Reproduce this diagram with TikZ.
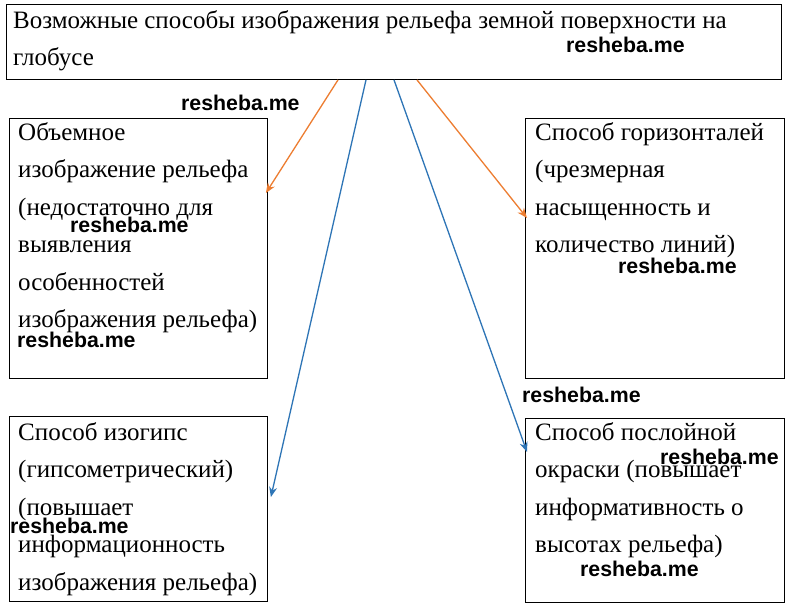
\documentclass[tikz,border=0pt]{standalone}
\usepackage{fontspec}
\setmainfont{Liberation Serif}
\newfontfamily\wmfont{Liberation Sans}
\usetikzlibrary{arrows.meta,calc}
\definecolor{arrorange}{HTML}{ED7D31}
\definecolor{arrblue}{HTML}{2E75B6}
\begin{document}
\begin{tikzpicture}[x=1pt,y=-1pt,
  box/.style={draw, line width=0.9pt, rectangle, inner sep=0pt, anchor=north west},
  txt/.style={anchor=north west, inner sep=0pt, align=left, font=\fontsize{25}{37.5}\selectfont},
  wmark/.style={anchor=west, inner sep=0pt, font=\wmfont\bfseries\fontsize{21.3}{21.3}\selectfont},
  arr/.style={-{Stealth[length=10pt,width=8pt]}, line width=1.3pt}]
\useasboundingbox (0,0) rectangle (791,611);
\fill[white] (0,0) rectangle (791,611);
% boxes
\node[box, minimum width=775pt, minimum height=75pt] (top) at (6,4) {};
\node[box, minimum width=258pt, minimum height=260pt] (lt) at (9,118) {};
\node[box, minimum width=259pt, minimum height=260pt] (rt) at (525,118) {};
\node[box, minimum width=258pt, minimum height=185pt] (lb) at (9,416) {};
\node[box, minimum width=259pt, minimum height=184pt] (rb) at (525,418) {};
% texts
\node[txt] (ttop) at (13,10) {Возможные способы изображения рельефа земной поверхности на\\глобусе};
\node[txt] (tlt) at (18,122) {Объемное\\изображение рельефа\\(недостаточно для\\выявления\\особенностей\\изображения рельефа)};
\node[txt] (trt) at (535,122) {Способ горизонталей\\(чрезмерная\\насыщенность и\\количество линий)};
\node[txt] (tlb) at (18,422) {Способ изогипс\\(гипсометрический)\\(повышает\\информационность\\изображения рельефа)};
\node[txt] (trb) at (535,422) {Способ послойной\\окраски (повышает\\информативность о\\высотах рельефа)};
% watermarks
\node[wmark] (w1) at (566,45) {resheba.me};
\node[wmark] (w2) at (181,103) {resheba.me};
\node[wmark] (w3) at (70,225) {resheba.me};
\node[wmark] (w4) at (17,340) {resheba.me};
\node[wmark] (w5) at (618,266) {resheba.me};
\node[wmark] (w6) at (522,395) {resheba.me};
\node[wmark] (w7) at (10,526) {resheba.me};
\node[wmark] (w8) at (660,457) {resheba.me};
\node[wmark] (w9) at (580,569) {resheba.me};
% arrows
\draw[arr, arrorange] ($(top.south west)+(332,0)$) -- ($(lt.north east)+(-2,75)$);
\draw[arr, arrorange] ($(top.south west)+(411,0)$) -- ($(rt.north west)+(2,100)$);
\draw[arr, arrblue] ($(top.south west)+(360,0)$) -- ($(lb.north east)+(3,81)$);
\draw[arr, arrblue] ($(top.south west)+(388,0)$) -- ($(rb.north west)+(2,34)$);
\end{tikzpicture}
\end{document}
